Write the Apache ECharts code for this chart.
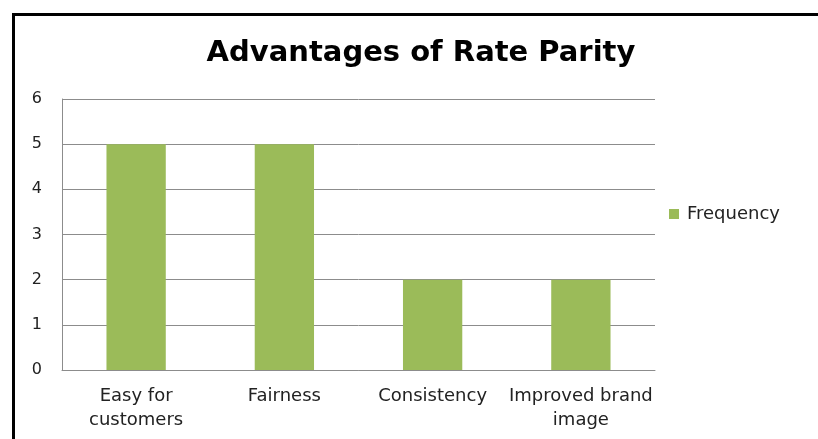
<!DOCTYPE html>
<html>
<head>
<meta charset="utf-8">
<script src="https://cdn.jsdelivr.net/npm/echarts@6/dist/echarts.min.js"></script>
<style>
html,body{margin:0;padding:0;background:#fff;}
#chart{width:818px;height:439px;position:absolute;left:0;top:0;}
#frame{position:absolute;left:12px;top:13px;width:900px;height:500px;border-left:3px solid #000;border-top:3px solid #000;pointer-events:none;}
</style>
</head>
<body>
<div id="chart"></div>
<div id="frame"></div>
<script>
const categories = ["Easy for\ncustomers", "Fairness", "Consistency", "Improved brand\nimage"];
const frequency = [5, 5, 2, 2];
const seriesName = "Frequency";
const titleText = "Advantages of Rate Parity";

const chart = echarts.init(document.getElementById('chart'));
const font = "'DejaVu Sans', 'Open Sans', sans-serif";
chart.setOption({
  animation: false,
  title: {
    text: titleText,
    left: 416, top: 34, textAlign: 'center',
    textStyle: { fontFamily: font, fontWeight: 'bold', fontSize: 29, color: '#000' }
  },
  legend: {
    data: [seriesName],
    left: 664, top: 200,
    icon: 'rect', itemWidth: 10, itemHeight: 10, itemGap: 6,
    textStyle: { fontFamily: font, fontSize: 18, color: '#222', padding: [0, 0, 0, 3] }
  },
  grid: { left: 62, right: 163, top: 99, bottom: 69 },
  xAxis: {
    type: 'category',
    data: categories,
    axisLine: { lineStyle: { color: '#8c8c8c', width: 1 } },
    axisTick: { show: false },
    axisLabel: { fontFamily: font, fontSize: 18, color: '#222', margin: 14, lineHeight: 24, interval: 0 }
  },
  yAxis: {
    type: 'value', min: 0, max: 6, interval: 1,
    axisLine: { show: true, lineStyle: { color: '#8c8c8c', width: 1 } },
    axisTick: { show: false },
    splitLine: { lineStyle: { color: '#8c8c8c', width: 1 } },
    axisLabel: { fontFamily: font, fontSize: 16, color: '#222', margin: 20 }
  },
  series: [{
    name: seriesName,
    type: 'bar',
    data: frequency,
    barWidth: '40%',
    itemStyle: { color: '#9BBB59' }
  }]
});
</script>
</body>
</html>
